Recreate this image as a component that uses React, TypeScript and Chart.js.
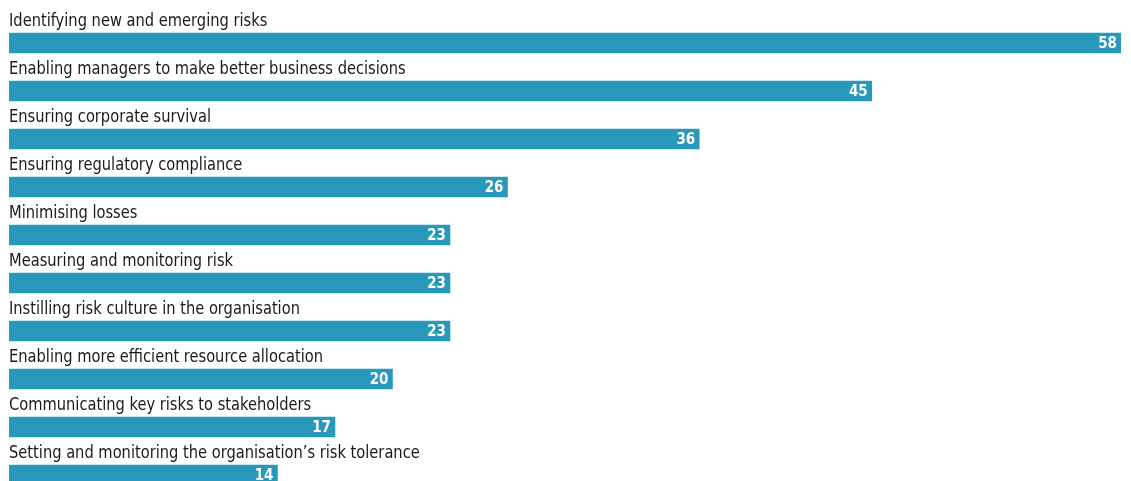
import React, { useEffect, useRef } from "react";
import { Chart, registerables } from "chart.js";

Chart.register(...registerables);

const categories: string[] = [
  "Identifying new and emerging risks",
  "Enabling managers to make better business decisions",
  "Ensuring corporate survival",
  "Ensuring regulatory compliance",
  "Minimising losses",
  "Measuring and monitoring risk",
  "Instilling risk culture in the organisation",
  "Enabling more efficient resource allocation",
  "Communicating key risks to stakeholders",
  "Setting and monitoring the organisation\u2019s risk tolerance",
];

const values: number[] = [58, 45, 36, 26, 23, 23, 23, 20, 17, 14];

const BAR_COLOR = "#2999bb";
const LABEL_FONT = "18px 'DejaVu Sans Condensed', 'Liberation Sans Narrow', sans-serif";
const VALUE_FONT = "bold 15px 'DejaVu Sans Condensed', 'Liberation Sans Narrow', sans-serif";
const LABEL_SQUEEZE = 0.905;

const labelPlugin = {
  id: "barLabels",
  afterDatasetsDraw(chart: any) {
    const ctx = chart.ctx;
    const meta = chart.getDatasetMeta(0);
    meta.data.forEach((bar: any, i: number) => {
      const props = bar.getProps(["x", "y", "base", "height"], true);
      const top = props.y - props.height / 2;
      ctx.save();
      ctx.font = LABEL_FONT;
      ctx.fillStyle = "#1a1a1a";
      ctx.textAlign = "left";
      ctx.textBaseline = "alphabetic";
      ctx.translate(props.base, top - 7);
      ctx.scale(LABEL_SQUEEZE, 1);
      ctx.fillText(categories[i], 0, 0);
      ctx.restore();
      ctx.save();
      ctx.font = VALUE_FONT;
      ctx.fillStyle = "#ffffff";
      ctx.textAlign = "right";
      ctx.textBaseline = "middle";
      ctx.fillText(String(values[i]), props.x - 4, props.y + 1);
      ctx.restore();
    });
  },
};

export default function App() {
  const ref = useRef<HTMLCanvasElement | null>(null);
  useEffect(() => {
    document.body.style.margin = "0";
    document.body.style.overflow = "hidden";
    const chart = new Chart(ref.current as HTMLCanvasElement, {
      type: "bar",
      data: {
        labels: categories,
        datasets: [
          {
            data: values,
            backgroundColor: BAR_COLOR,
            borderWidth: 0,
            barThickness: 20,
          },
        ],
      },
      options: {
        indexAxis: "y",
        animation: false,
        responsive: false,
        maintainAspectRatio: false,
        layout: { padding: { left: 9, right: 10, top: 19, bottom: 0 } },
        plugins: { legend: { display: false }, tooltip: { enabled: false } },
        scales: {
          x: { display: false, min: 0, max: 58 },
          y: { display: false },
        },
      },
      plugins: [labelPlugin],
    });
    return () => chart.destroy();
  }, []);
  return (
    <div style={{ position: "absolute", left: 0, top: 0, width: 1131, height: 481, overflow: "hidden", background: "#fff" }}>
      <canvas ref={ref} width={1131} height={499} style={{ display: "block" }} />
    </div>
  );
}
